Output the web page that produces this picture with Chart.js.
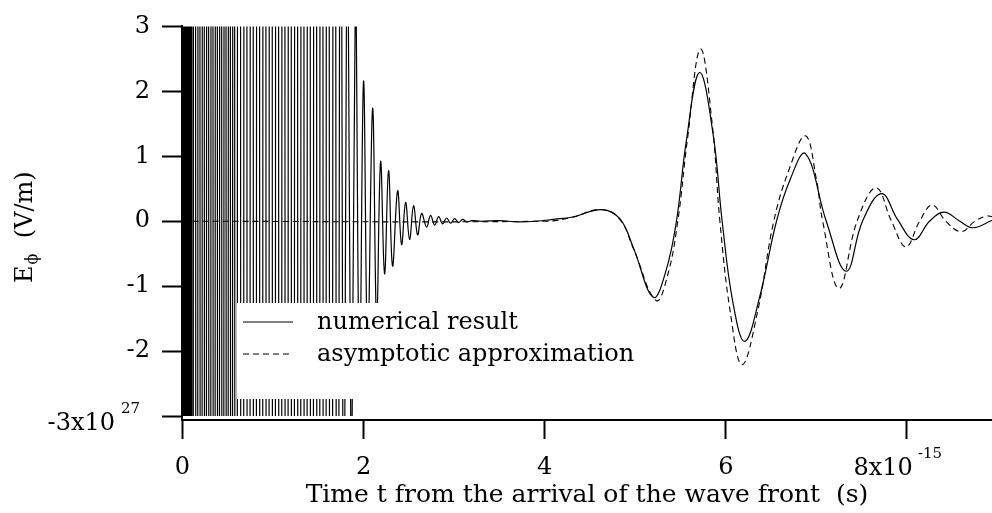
<!DOCTYPE html>
<html>
<head>
<meta charset="utf-8">
<script src="https://cdn.jsdelivr.net/npm/chart.js@4.4.0/dist/chart.umd.min.js"></script>
<style>
  html, body { margin: 0; padding: 0; background: #fff; }
</style>
</head>
<body>
<canvas id="chart" width="992" height="513"></canvas>
<script>
// Time axis is in units of 1e-15 s, field in units of 1e27 V/m (as the axis labels say)

// early burst of the numerical result: lines run far off the plot
const burstTimes = [
    0,
    0.005, 0.013, 0.021, 0.029, 0.037, 0.045, 0.053, 0.061, 0.069, 0.077, 0.085, 0.093, 0.101, 0.109,
    0.134, 0.158, 0.182, 0.206, 0.230, 0.254, 0.278, 0.302, 0.326, 0.350,
    0.374, 0.398, 0.422, 0.446, 0.470, 0.494, 0.518, 0.542, 0.566, 0.590,
    0.625, 0.660, 0.695, 0.730, 0.765, 0.800, 0.835, 0.870, 0.905, 0.940, 0.975, 1.010,
    1.045, 1.080, 1.115, 1.150, 1.185, 1.220, 1.255, 1.290, 1.325, 1.360, 1.395, 1.430,
    1.465, 1.500, 1.535, 1.570, 1.605, 1.640, 1.675, 1.710, 1.745, 1.780,
    1.820, 1.865, 1.910, 1.955
];
const burstField = [
    0,
    40, -40, 40, -40, 40, -40, 40, -40,
    40, -40, 40, -40, 40, -40, 40, -40,
    40, -40, 40, -40, 40, -40, 40, -40,
    40, -40, 40, -40, 40, -40, 40, -40,
    40, -40, 40, -40, 40, -40, 40, -40,
    40, -40, 40, -40, 40, -40, 40, -40,
    40, -40, 40, -40, 40, -40, 40, -40,
    40, -40, 40, -40, 40, -40, 40, -40,
    30, -20, 12, -8,
    6, -4.5, 3.6, -2.5
];

// ringing that dies out after the burst
const ringTimes = [
    2.000, 2.045, 2.100, 2.144, 2.188, 2.232, 2.276, 2.320, 2.376, 2.420, 2.464, 2.508, 2.552,
    2.597, 2.641, 2.696, 2.740, 2.785, 2.829, 2.873, 2.917, 2.961, 3.006, 3.050, 3.094, 3.138
];
const ringField = [
    2.16, -2.0, 1.74, -1.55, 0.92, -0.81, 0.78, -0.69, 0.47, -0.36, 0.29, -0.28, 0.24,
    -0.21, 0.12, -0.09, 0.09, -0.06, 0.07, -0.04, 0.05, -0.03, 0.04, -0.02, 0.03, -0.01
];

// main pulse of the numerical result
const waveTimes = [
    3.20, 3.30, 3.50, 3.70, 3.90, 4.10, 4.31, 4.63, 4.83, 4.98, 5.20, 5.34, 5.455, 5.565,
    5.71, 5.86, 5.96, 6.08, 6.21, 6.375, 6.56, 6.71, 6.88, 7.11, 7.33, 7.51, 7.72,
    7.90, 8.08, 8.25, 8.41, 8.585, 8.73, 8.94
];
const waveField = [
    0.01, 0.0, 0.01, -0.01, 0.0, 0.03, 0.065, 0.18, 0.04, -0.41, -1.17, -0.76, 0, 1.24,
    2.29, 1.34, 0, -1.26, -1.85, -1.16, 0, 0.64, 1.04, 0, -0.77, 0, 0.425,
    0.02, -0.285, 0, 0.14, 0, -0.10, 0.015
];

// asymptotic approximation (dashed)
const asymTimes = [
    0, 4.00, 4.30, 4.62, 4.83, 4.98, 5.23, 5.36, 5.47, 5.58, 5.72, 5.85, 5.935, 6.05, 6.18,
    6.35, 6.53, 6.70, 6.88, 7.00, 7.07, 7.25, 7.45, 7.66, 7.83, 7.99, 8.14, 8.28, 8.43,
    8.60, 8.75, 8.88, 8.94
];
const asymField = [
    0, 0, 0.06, 0.18, 0.03, -0.42, -1.22, -0.82, 0, 1.3, 2.65, 1.5, 0, -1.4, -2.21,
    -1.4, 0, 0.8, 1.315, 0.65, 0, -1.035, 0, 0.515, 0, -0.395, 0, 0.25, 0,
    -0.16, 0, 0.08, 0.07
];

const xTickValues = [0, 2, 4, 6, 8];
const yTickValues = [-3, -2, -1, 0, 1, 2, 3];
const legendLabels = ['numerical result', 'asymptotic approximation'];
const xTitle = 'Time t from the arrival of the wave front  (s)';

const FONT_FAMILY = '"DejaVu Serif", "Liberation Serif", serif';

function toPoints(times, values) {
    return times.map((t, i) => ({ x: t, y: values[i] }));
}

const numericalPoints = [].concat(
    toPoints(burstTimes, burstField),
    toPoints(ringTimes, ringField),
    toPoints(waveTimes, waveField)
);
const asymPoints = toPoints(asymTimes, asymField);

// legend, exponents and the y title (it has a subscript, so drawn by hand)
const extrasPlugin = {
    id: 'extras',
    afterDatasetsDraw(chart) {
        const ctx = chart.ctx;
        ctx.save();
        // white legend box sits on top of the burst lines
        ctx.fillStyle = '#fff';
        ctx.fillRect(237, 303, 410, 96);
        const rows = [322, 354];
        legendLabels.forEach((label, i) => {
            ctx.strokeStyle = '#000';
            ctx.lineWidth = 1.2;
            ctx.setLineDash(i === 1 ? [6, 4] : []);
            ctx.beginPath();
            ctx.moveTo(243, rows[i]);
            ctx.lineTo(293, rows[i]);
            ctx.stroke();
            ctx.fillStyle = '#000';
            ctx.font = `24px ${FONT_FAMILY}`;
            ctx.textAlign = 'left';
            ctx.textBaseline = 'alphabetic';
            ctx.fillText(label, 317, rows[i] + 7);
        });
        ctx.restore();
    },
    afterDraw(chart) {
        const ctx = chart.ctx;
        const xs = chart.scales.x;
        const ys = chart.scales.y;
        ctx.save();
        ctx.fillStyle = '#000';
        ctx.textBaseline = 'alphabetic';

        const px8 = xs.getPixelForValue(xTickValues[xTickValues.length - 1]);
        ctx.font = `24px ${FONT_FAMILY}`;
        ctx.textAlign = 'right';
        ctx.fillText('8x10', px8 + 6, 475);
        ctx.font = `15px ${FONT_FAMILY}`;
        ctx.textAlign = 'left';
        ctx.fillText('-15', px8 + 11, 458);

        const pyMin = ys.getPixelForValue(yTickValues[0]);
        ctx.font = `24px ${FONT_FAMILY}`;
        ctx.textAlign = 'right';
        ctx.fillText('-3x10', 115, pyMin + 14);
        ctx.font = `15px ${FONT_FAMILY}`;
        ctx.textAlign = 'left';
        ctx.fillText('27', 121, pyMin - 3);

        // y title, read bottom to top
        ctx.translate(32, 283);
        ctx.rotate(-Math.PI / 2);
        ctx.font = `24px ${FONT_FAMILY}`;
        ctx.fillText('E', 0, 0);
        let cx = ctx.measureText('E').width + 1;
        ctx.font = `16px ${FONT_FAMILY}`;
        ctx.fillText('\u03d5', cx, 5);
        cx += ctx.measureText('\u03d5').width;
        ctx.font = `24px ${FONT_FAMILY}`;
        ctx.fillText('  (V/m)', cx, 0);
        ctx.restore();
    }
};

function renderChart() {
    const ctx = document.getElementById('chart').getContext('2d');
    const tickFont = { family: FONT_FAMILY, size: 24 };

    new Chart(ctx, {
        type: 'line',
        data: {
            datasets: [{
                label: legendLabels[0],
                data: numericalPoints,
                borderColor: '#000',
                borderWidth: 1.2,
                pointRadius: 0,
                tension: 0.4,
                // lines stop at -3, a little above the x axis
                clip: { left: 0, top: 0, right: 0, bottom: -4 }
            }, {
                label: legendLabels[1],
                data: asymPoints,
                borderColor: '#000',
                borderWidth: 1.1,
                borderDash: [6, 4],
                pointRadius: 0,
                tension: 0.4
            }]
        },
        options: {
            responsive: false,
            animation: false,
            events: [],
            layout: { padding: { top: 16, right: 0, bottom: 0, left: 0 } },
            plugins: {
                legend: { display: false },
                tooltip: { enabled: false }
            },
            scales: {
                x: {
                    type: 'linear',
                    min: -0.005,
                    max: 8.94,
                    afterBuildTicks: scale => {
                        scale.ticks = xTickValues.map(v => ({ value: v }));
                    },
                    afterFit: scale => { scale.height = 93; },
                    grid: {
                        drawOnChartArea: false,
                        drawTicks: true,
                        tickLength: 19,
                        tickWidth: 2,
                        tickColor: '#000'
                    },
                    border: { display: true, color: '#000', width: 2 },
                    ticks: {
                        autoSkip: false,
                        maxRotation: 0,
                        padding: 14,
                        color: '#000',
                        font: tickFont,
                        callback: v => (v === 8 ? '' : String(v))
                    },
                    title: {
                        display: true,
                        text: xTitle,
                        color: '#000',
                        font: { family: FONT_FAMILY, size: 25 },
                        padding: { top: 0, bottom: 3 }
                    }
                },
                y: {
                    type: 'linear',
                    min: -3.06,
                    max: 3,
                    afterBuildTicks: scale => {
                        scale.ticks = yTickValues.map(v => ({ value: v }));
                    },
                    afterFit: scale => { scale.width = 182; },
                    grid: {
                        drawOnChartArea: false,
                        drawTicks: true,
                        tickLength: 20,
                        tickWidth: 2,
                        tickColor: '#000'
                    },
                    border: { display: true, color: '#000', width: 2 },
                    ticks: {
                        padding: 12,
                        color: '#000',
                        font: tickFont,
                        callback: v => (v === -3 ? '' : String(v))
                    }
                }
            }
        },
        plugins: [extrasPlugin]
    });
}

document.addEventListener('DOMContentLoaded', () => {
    renderChart();
});
</script>
</body>
</html>
